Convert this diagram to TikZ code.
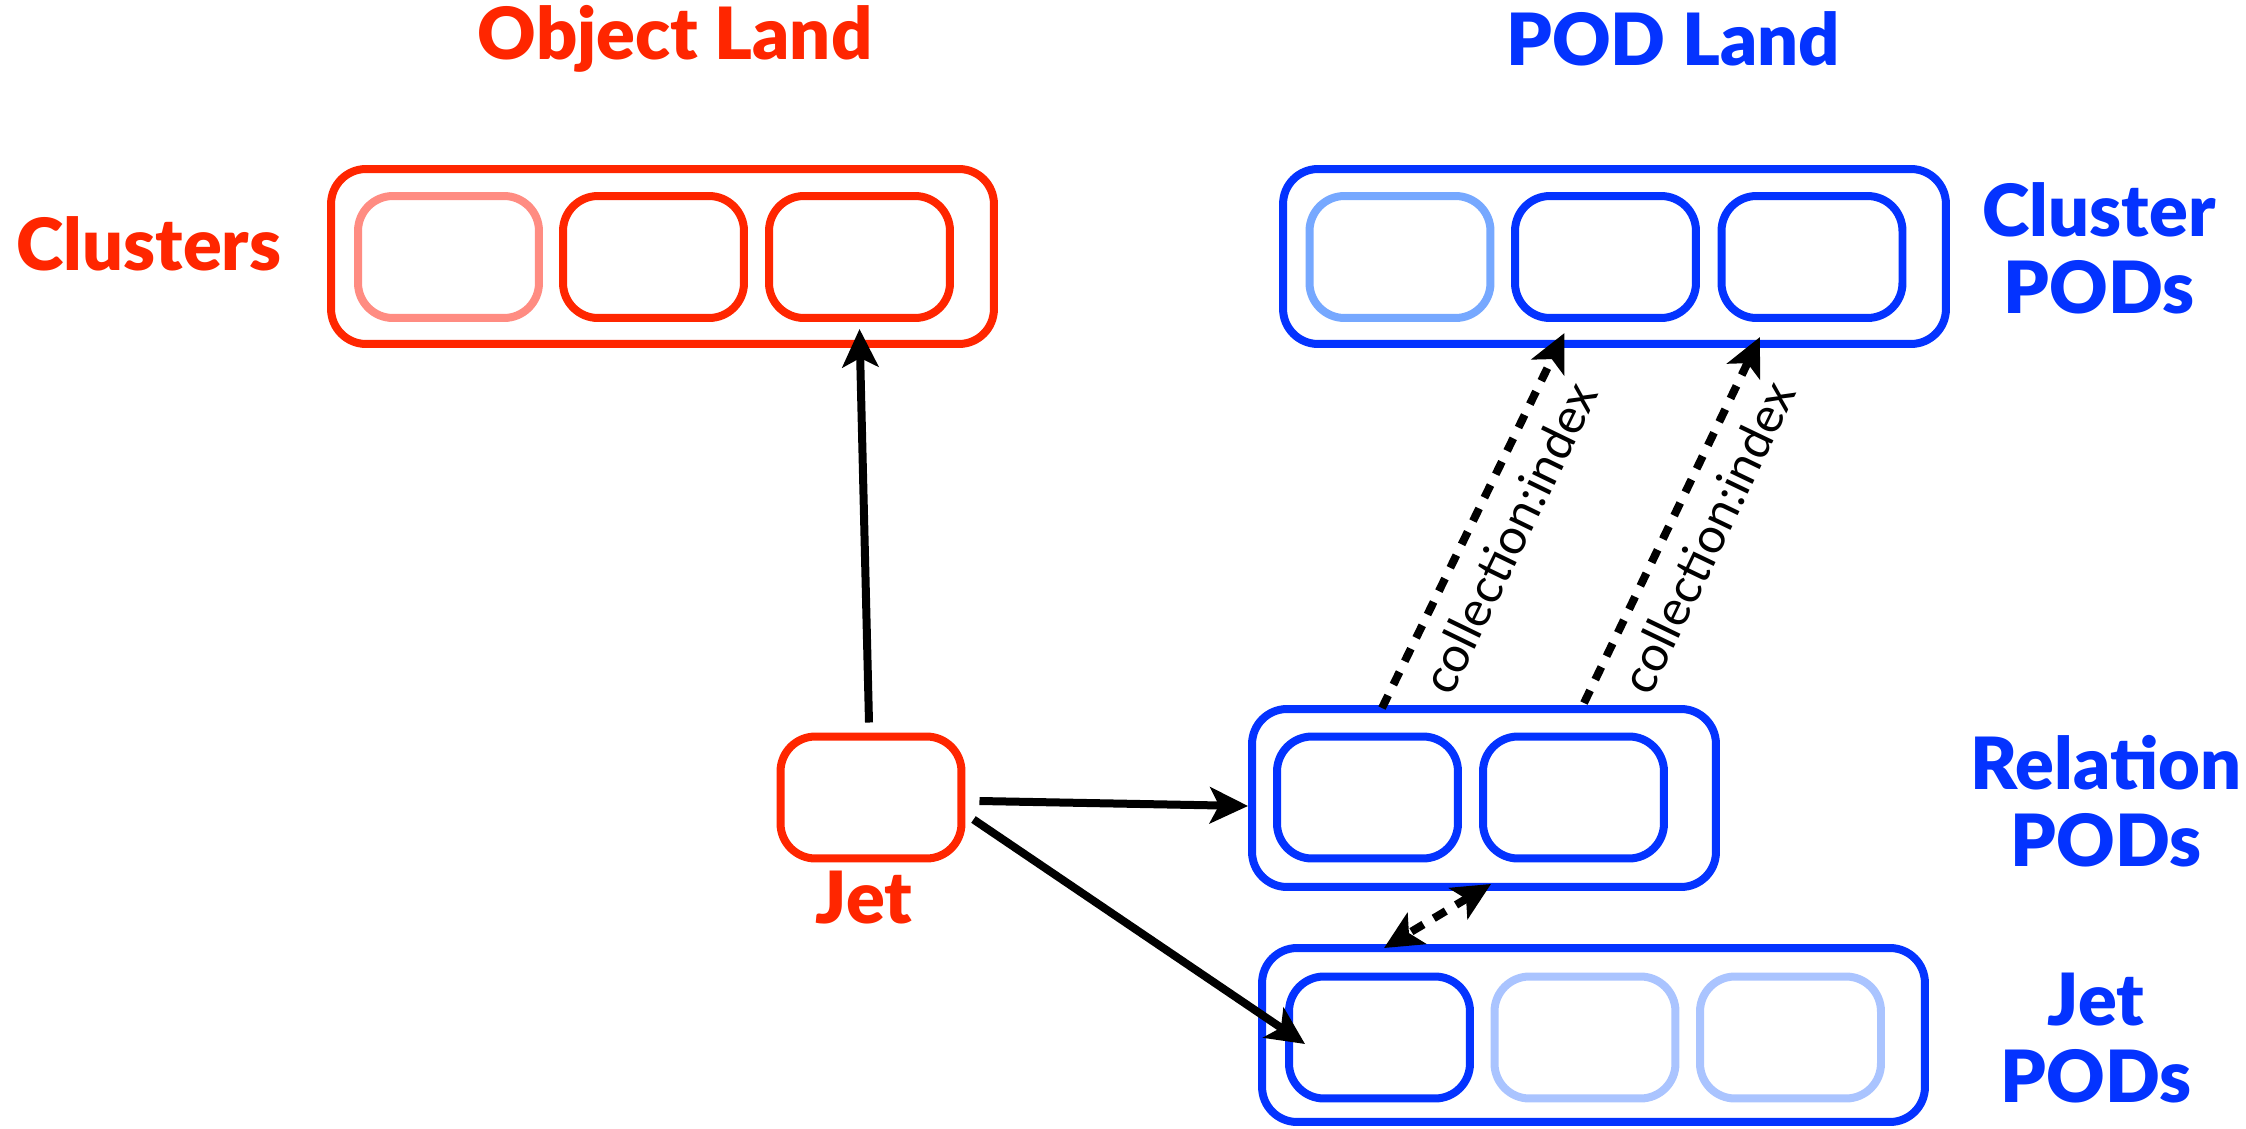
\documentclass[tikz,border=0pt]{standalone}
\usepackage{fontspec}
\setmainfont{Lato}
\newfontfamily\heavy{Lato Black}
\usetikzlibrary{arrows.meta,calc}
\definecolor{ored}{RGB}{255,38,0}
\definecolor{lred}{RGB}{255,140,130}
\definecolor{pblue}{RGB}{4,51,255}
\definecolor{lblueA}{RGB}{118,168,255}
\definecolor{lblueB}{RGB}{170,196,255}
\begin{document}
\begin{tikzpicture}[x=0.02cm,y=-0.02cm,
  cell/.style={draw, line width=0.16cm, rounded corners=0.7cm, minimum width=3.62cm, minimum height=2.44cm, inner sep=0pt},
  holder/.style={draw, line width=0.16cm, rounded corners=0.7cm, inner sep=0pt},
  tip/.style={},
  arr/.style={line width=0.16cm, -{Stealth[length=0.76cm,width=0.72cm,inset=0.18cm]}},
  dsh/.style={arr, dash pattern=on 0.28cm off 0.24cm},
  ttl/.style={font=\heavy\fontsize{41}{44}\selectfont, align=center},
  lbl/.style={font=\fontsize{28}{32}\selectfont, text=black}]
\fill[white] (0,0) rectangle (2246,1129);
\useasboundingbox (0,0) rectangle (2246,1129);

% titles
\node[ttl, text=ored] (tobj) at (675,39) {Object Land};
\node[ttl, text=pblue] (tpod) at (1673,39) {POD Land};

% Clusters
\node[holder, ored, minimum width=13.26cm, minimum height=3.5cm] (cl) at (662.5,256.5) {};
\node[cell, lred] (c1) at (448.5,257) {};
\node[cell, ored] (c2) at (653.5,257) {};
\node[cell, ored] (c3) at (859.5,257) {};
\node[ttl, text=ored] (lcl) at (149,244) {Clusters};

% Cluster PODs
\node[holder, pblue, minimum width=13.26cm, minimum height=3.5cm] (cp) at (1614.5,256.5) {};
\node[cell, lblueA] (cp1) at (1400,257) {};
\node[cell, pblue] (cp2) at (1605.5,257) {};
\node[cell, pblue] (cp3) at (1812,257) {};
\node[ttl, text=pblue] (lcp) at (2099,248) {Cluster\\PODs};

% Jet
\node[cell, ored] (jet) at (871,797.5) {};
\node[ttl, text=ored] (ljet) at (864,898) {Jet};

% Relation PODs
\node[holder, pblue, minimum width=9.28cm, minimum height=3.56cm] (rel) at (1484,798) {};
\node[cell, pblue] (r1) at (1367.5,797.5) {};
\node[cell, pblue] (r2) at (1573.5,797.5) {};
\node[ttl, text=pblue] (lrel) at (2106,801) {Relation\\PODs};

% Jet PODs
\node[holder, pblue, minimum width=13.26cm, minimum height=3.48cm] (jp) at (1593.5,1035) {};
\node[cell, pblue] (jp1) at (1379.5,1037.5) {};
\node[cell, lblueB] (jp2) at (1585,1037.5) {};
\node[cell, lblueB] (jp3) at (1790.5,1037.5) {};
\node[ttl, text=pblue] (ljp) at (2096,1038) {Jet\\PODs};

% connectors
\draw[arr] ($(jet.north)+(-2,-10)$) -- ($(c3.south)+(0,7)$);
\draw[arr] ($(jet.east)+(14,3.5)$) -- ($(rel.west)+(0,8)$);
\draw[arr] ($(jet.east)+(8,22)$) -- ($(jp1.west)+(20,6.5)$);
\draw[dsh] ($(rel.north)+(-102,3)$) -- node[lbl, sloped, below, pos=0.5, inner sep=10pt] (li1) {collection:index} ($(cp2.south)+(-41,11)$);
\draw[dsh] ($(rel.north)+(100,-2)$) -- node[lbl, sloped, below, pos=0.5, inner sep=10pt] (li2) {collection:index} ($(cp3.south)+(-52,15)$);
\draw[dsh, {Stealth[length=0.76cm,width=0.72cm,inset=0.18cm]}-{Stealth[length=0.76cm,width=0.72cm,inset=0.18cm]}] ($(rel.south)+(7,-7)$) -- ($(jp.north)+(-209.5,4)$);
\end{tikzpicture}
\end{document}
